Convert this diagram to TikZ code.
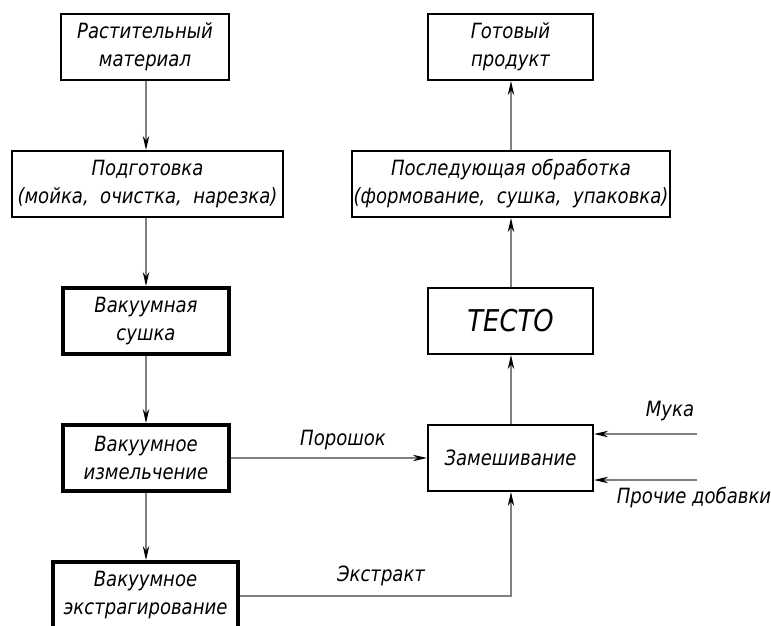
\documentclass[tikz,border=0pt]{standalone}
\usepackage{fontspec}
\setmainfont{DejaVu Sans}[FakeStretch=0.86]
\usetikzlibrary{arrows.meta}
\begin{document}
\begin{tikzpicture}[x=1pt,y=-1pt,
  txt/.style={font=\itshape\fontsize{21}{28}\selectfont, align=center, inner sep=0pt},
  box/.style={txt, draw, line width=2.2pt, minimum height=66pt},
  tbox/.style={box, line width=4pt},
  conn/.style={draw=gray, line width=1.1pt},
  arr/.style={conn, -{Stealth[length=14pt,width=6.5pt,color=black]}}]
\useasboundingbox (0,0) rectangle (771,626);
% left column
\node[box, minimum width=168pt] (b1) at (145,47) {Растительный\\материал};
\node[box, minimum width=271pt] (b2) at (147.5,184) {Подготовка\\(мойка, \ очистка, \ нарезка)};
\node[tbox, minimum width=166pt] (b3) at (146,321) {Вакуумная\\сушка};
\node[tbox, minimum width=166pt] (b4) at (146,458) {Вакуумное\\измельчение};
\node[tbox, minimum width=185pt] (b5) at (145.5,595) {Вакуумное\\экстрагирование};
% right column
\node[box, minimum width=165pt] (b6) at (510.5,47) {Готовый\\продукт};
\node[box, minimum width=318pt] (b7) at (511,184) {Последующая обработка\\(формование, \ сушка, \ упаковка)};
\node[box, minimum width=165pt, font=\itshape\fontsize{30}{34}\selectfont] (b8) at (510.5,321) {ТЕСТО};
\node[box, minimum width=165pt] (b9) at (510.5,458) {Замешивание};
% free ends
\coordinate (mk) at (697,434);
\coordinate (pd) at (697,480);
\coordinate (ex) at (511,596);
% connectors left
\draw[arr] (b1.south -| 146,0) -- (b2.north -| 146,0);
\draw[arr] (b2.south -| 146,0) -- (b3.north -| 146,0);
\draw[arr] (b3.south -| 146,0) -- (b4.north -| 146,0);
\draw[arr] (b4.south -| 146,0) -- (b5.north -| 146,0);
% connectors right
\draw[arr] (b9.north -| 511,0) -- (b8.south -| 511,0);
\draw[arr] (b8.north -| 511,0) -- (b7.south -| 511,0);
\draw[arr] (b7.north -| 511,0) -- (b6.south -| 511,0);
\draw[arr] (b4.east) -- (b9.west);
\draw[arr] (b5.east |- ex) -- (ex) -- (b9.south -| ex);
\draw[arr] (mk) -- (mk -| b9.east);
\draw[arr] (pd) -- (pd -| b9.east);
% labels
\node[txt] (lp) at (343,440) {Порошок};
\node[txt] (le) at (381,576) {Экстракт};
\node[txt] (lm) at (670,411) {Мука};
\node[txt] (la) at (694,498) {Прочие добавки};
\end{tikzpicture}
\end{document}
